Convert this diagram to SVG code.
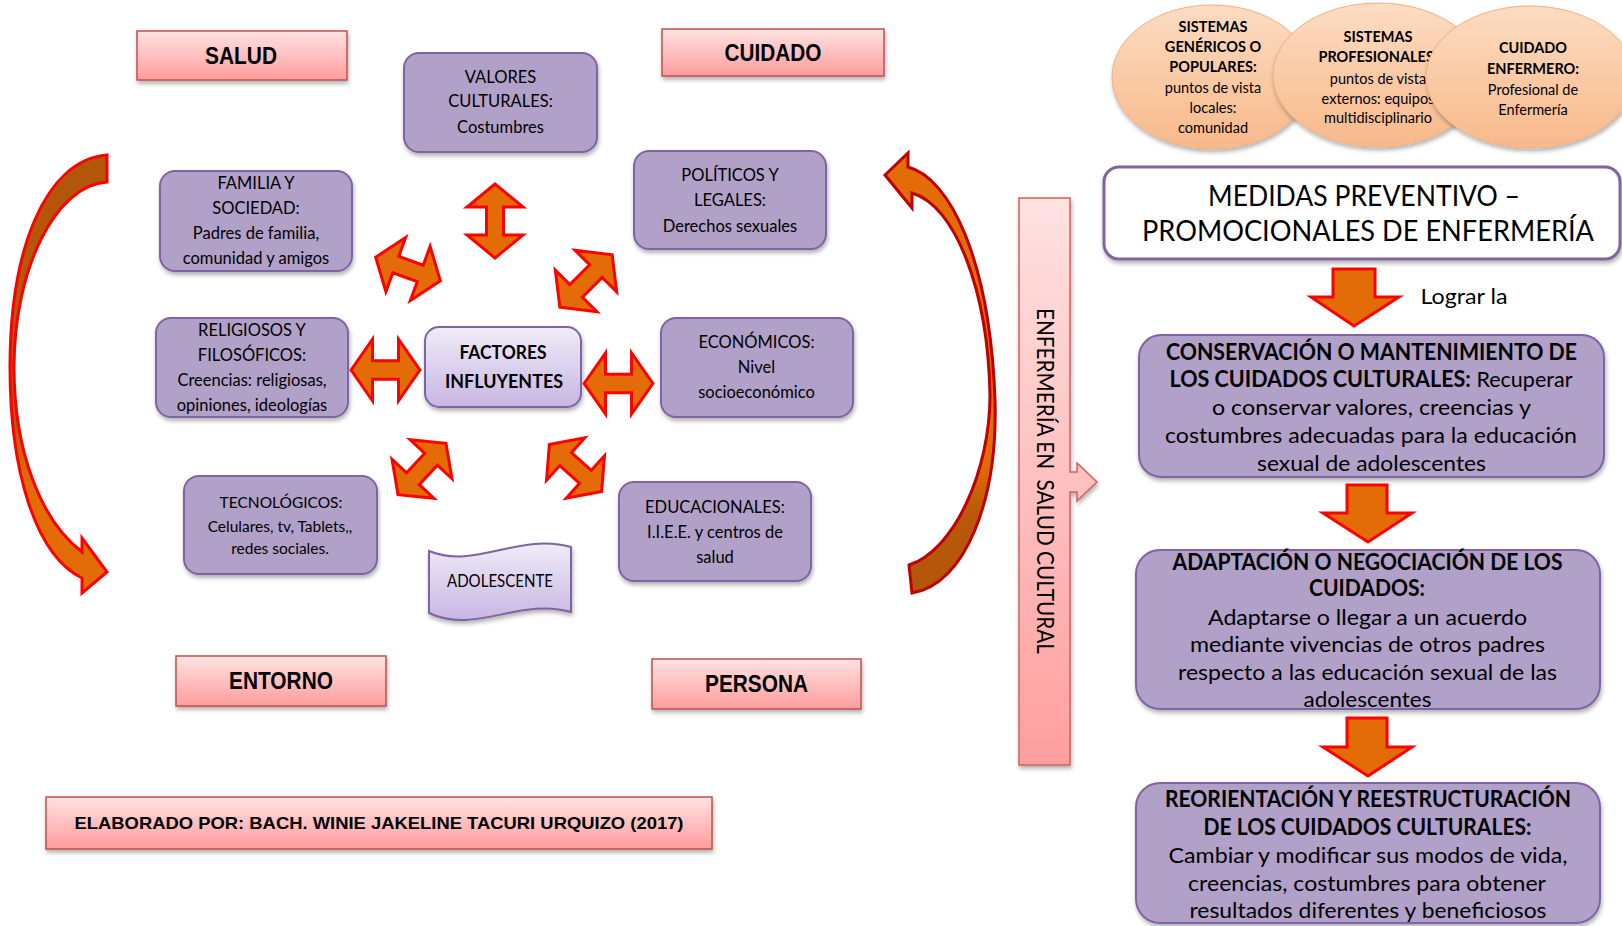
<svg xmlns="http://www.w3.org/2000/svg" xmlns:xlink="http://www.w3.org/1999/xlink" width="1622" height="926" viewBox="0 0 1622 926">
<style>
.pk{fill:url(#gPink);stroke:#C0504D;stroke-width:1.5;filter:url(#sh)}
.pu{fill:#B1A0C7;stroke:#8064A2;stroke-width:2;filter:url(#sh)}
.lv{fill:url(#gLav);stroke:#8064A2;stroke-width:2;filter:url(#sh)}
.el{fill:url(#gPeach);stroke:#F0B080;stroke-width:1;filter:url(#sh)}
.ar{fill:#E36C09;stroke:#FF0000;stroke-width:3;stroke-linejoin:miter}
.lb{font-family:"Liberation Sans",Arial,sans-serif;font-weight:bold;fill:#000;text-anchor:middle}
.c{font-family:Lato,"Noto Sans",sans-serif;fill:#000;text-anchor:middle}
.b{font-weight:bold}
.s16{font-size:16.5px}
.s14{font-size:14.5px}
.s22{font-size:22px}
</style>
<defs>
<linearGradient id="gPink" x1="0" y1="0" x2="0" y2="1"><stop offset="0" stop-color="#FFE3E3"/><stop offset="1" stop-color="#FF9C9C"/></linearGradient>
<linearGradient id="gLav" x1="0" y1="0" x2="0" y2="1"><stop offset="0" stop-color="#F0ECF8"/><stop offset="1" stop-color="#C7B6E3"/></linearGradient>
<linearGradient id="gPeach" x1="0" y1="0" x2="0" y2="1"><stop offset="0" stop-color="#FCDCC2"/><stop offset="1" stop-color="#F8B98A"/></linearGradient>
<linearGradient id="gBan" x1="0" y1="198" x2="0" y2="765" gradientUnits="userSpaceOnUse"><stop offset="0" stop-color="#FFE2E2"/><stop offset="1" stop-color="#FF9E9E"/></linearGradient>
<linearGradient id="gLeft" x1="0" y1="155" x2="0" y2="593" gradientUnits="userSpaceOnUse"><stop offset="0" stop-color="#B3550A"/><stop offset="0.6" stop-color="#B9590A"/><stop offset="0.75" stop-color="#E36C09"/><stop offset="1" stop-color="#E36C09"/></linearGradient>
<linearGradient id="gRight" x1="0" y1="153" x2="0" y2="593" gradientUnits="userSpaceOnUse"><stop offset="0" stop-color="#E36C09"/><stop offset="0.7" stop-color="#E36C09"/><stop offset="0.82" stop-color="#B9590A"/><stop offset="1" stop-color="#B3550A"/></linearGradient>
<filter id="sh" x="-10%" y="-10%" width="125%" height="140%"><feDropShadow dx="1" dy="3" stdDeviation="2" flood-color="#000" flood-opacity="0.3"/></filter>
<path id="dbl" d="M -37,0 L -14,-28 L -14,-8.5 L 14,-8.5 L 14,-28 L 37,0 L 14,28 L 14,8.5 L -14,8.5 L -14,28 Z" vector-effect="non-scaling-stroke"/>
</defs>
<rect width="1622" height="926" fill="#FFFFFF"/>

<g id="salud"><rect class="pk" x="137" y="31" width="210" height="49"/><text class="lb" x="241" y="64" font-size="23" textLength="72" lengthAdjust="spacingAndGlyphs">SALUD</text></g>
<g id="cuidado"><rect class="pk" x="662" y="29" width="222" height="47"/><text class="lb" x="773" y="61" font-size="23" textLength="97" lengthAdjust="spacingAndGlyphs">CUIDADO</text></g>
<g id="entorno"><rect class="pk" x="176" y="656" width="210" height="50"/><text class="lb" x="281" y="689" font-size="23" textLength="104" lengthAdjust="spacingAndGlyphs">ENTORNO</text></g>
<g id="persona"><rect class="pk" x="652" y="659" width="209" height="50"/><text class="lb" x="756.5" y="692" font-size="23" textLength="103" lengthAdjust="spacingAndGlyphs">PERSONA</text></g>
<g id="elaborado"><rect class="pk" x="46" y="797" width="666" height="52"/><text class="lb" x="379" y="829" font-size="17" textLength="609" lengthAdjust="spacingAndGlyphs">ELABORADO POR: BACH. WINIE JAKELINE TACURI URQUIZO (2017)</text></g>

<g id="valores"><rect class="pu" x="404" y="53" width="193" height="99" rx="15"/>
<text class="c s16" x="500.5" y="82.5">VALORES</text><text class="c s16" x="500.5" y="107">CULTURALES:</text><text class="c s16" x="500.5" y="133">Costumbres</text></g>
<g id="familia"><rect class="pu" x="160" y="171" width="192" height="100" rx="15"/>
<text class="c s16" x="256" y="189">FAMILIA Y</text><text class="c s16" x="256" y="214">SOCIEDAD:</text><text class="c s16" x="256" y="239">Padres de familia,</text><text class="c s16" x="256" y="264">comunidad y amigos</text></g>
<g id="politicos"><rect class="pu" x="634" y="151" width="192" height="98" rx="15"/>
<text class="c s16" x="730" y="181">POLÍTICOS Y</text><text class="c s16" x="730" y="206">LEGALES:</text><text class="c s16" x="730" y="231.5">Derechos sexuales</text></g>
<g id="religiosos"><rect class="pu" x="156" y="318" width="192" height="99" rx="15"/>
<text class="c s16" x="252" y="336">RELIGIOSOS Y</text><text class="c s16" x="252" y="361">FILOSÓFICOS:</text><text class="c s16" x="252" y="386">Creencias: religiosas,</text><text class="c s16" x="252" y="410.5">opiniones, ideologías</text></g>
<g id="factores"><rect class="lv" x="425" y="327" width="156" height="80" rx="14"/>
<text class="c b" x="503" y="359" font-size="19" textLength="87" lengthAdjust="spacingAndGlyphs">FACTORES</text><text class="c b" x="504" y="388" font-size="19" textLength="118" lengthAdjust="spacingAndGlyphs">INFLUYENTES</text></g>
<g id="economicos"><rect class="pu" x="661" y="318" width="192" height="99" rx="15"/>
<text class="c s16" x="756.5" y="348">ECONÓMICOS:</text><text class="c s16" x="756.5" y="373">Nivel</text><text class="c s16" x="756.5" y="398">socioeconómico</text></g>
<g id="tecnologicos"><rect class="pu" x="184" y="476" width="193" height="98" rx="15"/>
<text class="c" font-size="15.5" x="281" y="508">TECNOLÓGICOS:</text><text class="c" font-size="15.5" x="280" y="531.5">Celulares, tv, Tablets,,</text><text class="c" font-size="15.5" x="280" y="554">redes sociales.</text></g>
<g id="educacionales"><rect class="pu" x="619" y="482" width="192" height="99" rx="15"/>
<text class="c s16" x="715" y="513">EDUCACIONALES:</text><text class="c s16" x="715" y="538">I.I.E.E. y centros de</text><text class="c s16" x="715" y="562.5">salud</text></g>
<g id="adolescente"><path class="lv" d="M 429,551 C 475,570 520,532 571,547 L 571,612 C 520,597 475,635 429,613 Z"/>
<text class="c" font-size="17" x="500" y="587" textLength="106" lengthAdjust="spacingAndGlyphs">ADOLESCENTE</text></g>

<g id="sistemas-genericos"><ellipse class="el" cx="1212" cy="77" rx="100" ry="72"/>
<text class="c s14 b" x="1213" y="32">SISTEMAS</text><text class="c s14 b" x="1213" y="52">GENÉRICOS O</text><text class="c s14 b" x="1213" y="72">POPULARES:</text><text class="c s14" x="1213" y="93">puntos de vista</text><text class="c s14" x="1213" y="113">locales:</text><text class="c s14" x="1213" y="133">comunidad</text></g>
<g id="sistemas-profesionales"><ellipse class="el" cx="1378" cy="75" rx="105" ry="72"/>
<text class="c s14 b" x="1378" y="42">SISTEMAS</text><text class="c s14 b" x="1378" y="62">PROFESIONALES:</text><text class="c s14" x="1378" y="84">puntos de vista</text><text class="c s14" x="1378" y="104">externos: equipos</text><text class="c s14" x="1378" y="123">multidisciplinario</text></g>
<g id="cuidado-enfermero"><ellipse class="el" cx="1530" cy="77" rx="104" ry="71"/>
<text class="c s14 b" x="1533" y="53">CUIDADO</text><text class="c s14 b" x="1533" y="74">ENFERMERO:</text><text class="c s14" x="1533" y="95">Profesional de</text><text class="c s14" x="1533" y="115">Enfermería</text></g>

<g id="medidas"><rect x="1104" y="167" width="516" height="92" rx="15" fill="#FFFFFF" stroke="#8064A2" stroke-width="3" filter="url(#sh)"/>
<text class="c" font-size="28" x="1364" y="206" textLength="312" lengthAdjust="spacingAndGlyphs">MEDIDAS PREVENTIVO –</text>
<text class="c" font-size="28" x="1368" y="241" textLength="452" lengthAdjust="spacingAndGlyphs">PROMOCIONALES DE ENFERMERÍA</text></g>

<g id="conservacion"><rect class="pu" x="1139" y="335" width="465" height="142" rx="22"/>
<text class="c s22 b" x="1371.5" y="360" textLength="411" lengthAdjust="spacingAndGlyphs">CONSERVACIÓN O MANTENIMIENTO DE</text>
<text class="c s22" x="1371" y="387" textLength="403" lengthAdjust="spacingAndGlyphs"><tspan font-weight="bold">LOS CUIDADOS CULTURALES:</tspan> Recuperar</text>
<text class="c s22" x="1371.5" y="415" textLength="319" lengthAdjust="spacingAndGlyphs">o conservar valores, creencias y</text>
<text class="c s22" x="1371" y="443" textLength="412" lengthAdjust="spacingAndGlyphs">costumbres adecuadas para la educación</text>
<text class="c s22" x="1371.5" y="471" textLength="229" lengthAdjust="spacingAndGlyphs">sexual de adolescentes</text></g>

<g id="adaptacion"><rect class="pu" x="1136" y="550" width="464" height="159" rx="24"/>
<text class="c s22 b" x="1367.5" y="570" textLength="390" lengthAdjust="spacingAndGlyphs">ADAPTACIÓN O NEGOCIACIÓN DE LOS</text>
<text class="c s22 b" x="1367" y="596" textLength="116" lengthAdjust="spacingAndGlyphs">CUIDADOS:</text>
<text class="c s22" x="1367.5" y="625" textLength="319" lengthAdjust="spacingAndGlyphs">Adaptarse o llegar a un acuerdo</text>
<text class="c s22" x="1367.5" y="652" textLength="355" lengthAdjust="spacingAndGlyphs">mediante vivencias de otros padres</text>
<text class="c s22" x="1367.5" y="680" textLength="379" lengthAdjust="spacingAndGlyphs">respecto a las educación sexual de las</text>
<text class="c s22" x="1367.5" y="707" textLength="128" lengthAdjust="spacingAndGlyphs">adolescentes</text></g>

<g id="reorientacion"><rect class="pu" x="1136" y="783" width="464" height="140" rx="24"/>
<text class="c s22 b" x="1368" y="807" textLength="406" lengthAdjust="spacingAndGlyphs">REORIENTACIÓN Y REESTRUCTURACIÓN</text>
<text class="c s22 b" x="1367.5" y="835" textLength="328" lengthAdjust="spacingAndGlyphs">DE LOS CUIDADOS CULTURALES:</text>
<text class="c s22" x="1368" y="863" textLength="399" lengthAdjust="spacingAndGlyphs">Cambiar y modificar sus modos de vida,</text>
<text class="c s22" x="1367" y="891" textLength="358" lengthAdjust="spacingAndGlyphs">creencias, costumbres para obtener</text>
<text class="c s22" x="1368" y="918" textLength="357" lengthAdjust="spacingAndGlyphs">resultados diferentes y beneficiosos</text></g>

<g id="enfermeria-salud-cultural"><path d="M 1019,198 L 1070,198 L 1070,472 L 1077,472 L 1077,463 L 1097,482 L 1077,501 L 1077,492 L 1070,492 L 1070,765 L 1019,765 Z" fill="url(#gBan)" stroke="#D06060" stroke-width="1.5" filter="url(#sh)"/>
<text class="c" font-size="23" xml:space="preserve" transform="translate(1044.5,481) rotate(90)" x="0" y="8" textLength="346" lengthAdjust="spacingAndGlyphs">ENFERMERÍA EN  SALUD CULTURAL</text></g>

<g id="connectors">
<path d="M 107,155 L 107,182 C 55,185 14,270 14,367 C 14,450 40,520 82,552 L 82,538 L 107,572 L 82,593 L 82,578 C 35,555 10,470 10,367 C 10,250 45,160 107,155 Z" fill="url(#gLeft)" stroke="#FF0000" stroke-width="3" stroke-linejoin="miter"/>
<path d="M 885,175 L 908,153 L 908,167 C 950,178 990,260 995,400 C 998,500 965,585 912,593 L 909,565 C 955,550 990,470 990,395 C 988,290 955,205 912,193 L 912,208 Z" fill="url(#gRight)" stroke="#C00000" stroke-width="3" stroke-linejoin="miter"/>
<use href="#dbl" class="ar" transform="translate(495,221) rotate(90)"/>
<use href="#dbl" class="ar" transform="translate(408,269) rotate(20) scale(0.93,1.03)"/>
<use href="#dbl" class="ar" transform="translate(586,281) rotate(-45) scale(1,1.05)"/>
<use href="#dbl" class="ar" transform="translate(385.5,370) scale(0.93,1.1)"/>
<use href="#dbl" class="ar" transform="translate(618.5,383.5) scale(0.93,1.09)"/>
<use href="#dbl" class="ar" transform="translate(422,469) rotate(-47) scale(0.95,1.02)"/>
<use href="#dbl" class="ar" transform="translate(575.5,468) rotate(42) scale(0.95,1.02)"/>
<polygon class="ar" points="1333,269 1375,269 1375,297 1399,297 1354,326 1311,297 1333,297"/>
<polygon class="ar" points="1347,485 1387,485 1387,513 1412,513 1368,542 1323,513 1347,513"/>
<polygon class="ar" points="1347,718 1387,718 1387,747 1412,747 1368,776 1323,747 1347,747"/>
<text class="c" font-size="21" x="1464" y="304" textLength="87" lengthAdjust="spacingAndGlyphs">Lograr la</text>
</g>
</svg>
